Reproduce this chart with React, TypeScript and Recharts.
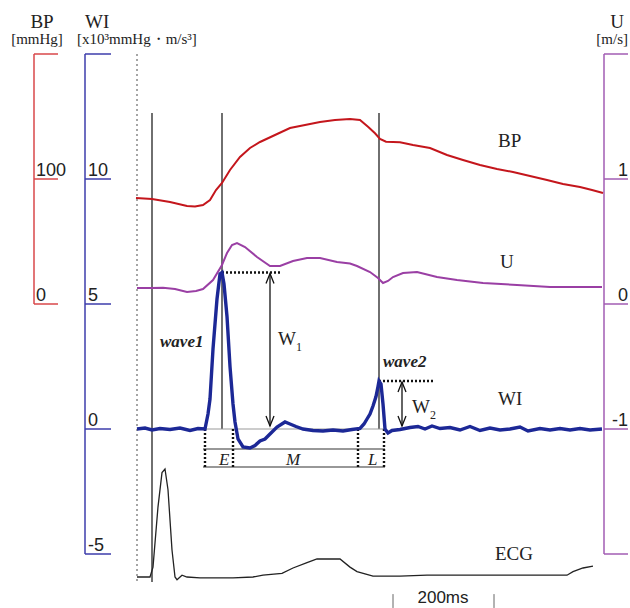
import { ComposedChart, Line, XAxis, YAxis, ReferenceLine } from "recharts";

const W = 630;
const H = 608;

// time in ms, 0 = start of the recording (dotted line)
const X_DOMAIN: [number, number] = [-272, 988];
const BP_DOMAIN: [number, number] = [-243.2, 243.2];
const WI_DOMAIN: [number, number] = [-7.16, 17.16];
const U_DOMAIN: [number, number] = [-2.432, 2.432];
const ECG_DOMAIN: [number, number] = [-0.3444, 6.4111];

// [t ms, mmHg]
const bpPoints: [number, number][] = [
  [0, 84.8], [32, 84], [68, 81.6], [102, 78.4], [118, 78], [134, 79.2], [148, 83.2], [160, 91.2],
  [172, 96.8], [188, 107.2], [208, 117.6], [228, 124.8], [248, 129.6], [278, 135.2], [308, 140.8],
  [338, 143.2], [368, 145.6], [398, 147.2], [428, 148], [448, 147.2], [464, 141.8], [478, 136.6],
  [488, 132], [500, 129.8], [528, 129.4], [554, 127.2], [588, 124.8], [622, 119.2], [654, 115.2],
  [688, 111.2], [722, 108], [754, 105.6], [788, 102.4], [822, 99.2], [854, 96], [888, 93.6],
  [912, 91.2], [934, 88.8],
];

// [t ms, m/s]
const uPoints: [number, number][] = [
  [2, 0.128], [32, 0.128], [54, 0.13], [78, 0.12], [102, 0.096], [120, 0.104], [134, 0.12],
  [154, 0.192], [172, 0.312], [182, 0.408], [192, 0.472], [202, 0.488], [218, 0.456], [242, 0.376],
  [268, 0.304], [288, 0.304], [314, 0.344], [342, 0.368], [368, 0.368], [402, 0.336], [428, 0.324],
  [442, 0.304], [468, 0.256], [484, 0.208], [494, 0.168], [504, 0.184], [514, 0.216], [534, 0.248],
  [562, 0.256], [602, 0.216], [642, 0.192], [694, 0.168], [762, 0.152], [828, 0.136], [894, 0.136],
  [932, 0.136],
];

// [t ms, x10^3 mmHg·m/s^3]
const wiPoints: [number, number][] = [
  [2, 0], [18, 0.04], [32, -0.04], [48, 0.02], [68, -0.02], [88, 0.04], [108, -0.06], [124, 0.02],
  [138, 0], [144, 0.6], [148, 1.2], [154, 3.2], [162, 5.2], [168, 6.2], [172, 6.26], [176, 5.8],
  [182, 4.5], [188, 2.5], [194, 1.0], [198, 0.28], [204, -0.4], [214, -0.72], [228, -0.76],
  [238, -0.66], [248, -0.48], [258, -0.4], [268, -0.2], [282, 0.08], [298, 0.28], [308, 0.2],
  [320, 0.1], [334, 0], [354, -0.06], [374, -0.08], [394, -0.04], [414, -0.08], [432, -0.02],
  [448, 0.02], [456, 0.2], [462, 0.4], [468, 0.6], [474, 0.92], [480, 1.3], [484, 1.7], [486, 1.92],
  [490, 1.8], [494, 1.0], [498, 0], [504, -0.16], [512, -0.06], [528, -0.02], [548, 0.06],
  [564, 0.1], [578, 0], [592, 0.12], [608, 0.02], [628, 0.06], [648, -0.04], [668, 0.1],
  [688, -0.06], [708, 0.04], [728, -0.04], [748, 0], [768, 0.08], [784, -0.08], [808, 0.02],
  [828, -0.04], [848, 0.02], [868, -0.04], [888, 0.02], [908, -0.04], [932, 0],
];

// [t ms, mV]
const ecgPoints: [number, number][] = [
  [2, 0], [28, 0], [34, 0.11], [44, 0.78], [52, 1.16], [58, 1.2], [64, 0.97], [72, 0.3], [78, 0],
  [82, -0.03], [92, 0.02], [102, 0], [128, -0.01], [194, -0.01], [234, 0], [254, 0.02], [292, 0.04],
  [314, 0.1], [342, 0.16], [362, 0.2], [408, 0.2], [428, 0.11], [442, 0.06], [474, 0.01], [528, 0.01],
  [582, 0.02], [794, 0.02], [862, 0.02], [874, 0.06], [894, 0.1], [914, 0.12],
];

const BP_TICKS = [0, 100, 200];
const BP_LABELS = ["0", "100"];
const WI_TICKS = [-5, 0, 5, 10, 15];
const WI_LABELS = ["-5", "0", "5", "10"];
const U_TICKS = [-2, -1, 0, 1, 2];
const U_LABELS = ["-1", "0", "1"];

const toRows = (pts: [number, number][]) => pts.map(([t, v]) => ({ t, v }));

const SERIF = "'Liberation Serif', 'Times New Roman', serif";
const SANS = "'Liberation Sans', Arial, sans-serif";

const xPx = (t: number) => ((t - X_DOMAIN[0]) / (X_DOMAIN[1] - X_DOMAIN[0])) * W;
const yPx = (v: number, d: [number, number]) => ((d[1] - v) / (d[1] - d[0])) * H;

// event times (ms)
const T_ONSET = 32;
const T_WAVE1 = 172;
const T_WAVE2 = 486;
const T_E = [138, 194];
const T_L = [444, 496];
const T_BR = [134, 498];

const wave1Peak = Math.max(...wiPoints.filter(([t]) => t < 300).map(([, v]) => v));
const wave2Peak = Math.max(...wiPoints.filter(([t]) => t > 400 && t < 600).map(([, v]) => v));

function ArrowV({ t, top, bottom }: { t: number; top: number; bottom: number }) {
  const x = xPx(t);
  const y1 = yPx(top, WI_DOMAIN);
  const y2 = yPx(bottom, WI_DOMAIN);
  return (
    <g stroke="#111" fill="none" strokeWidth={1.3}>
      <line x1={x} y1={y1 + 1} x2={x} y2={y2 - 1} />
      <polyline points={`${x - 4},${y1 + 11} ${x},${y1 + 1} ${x + 4},${y1 + 11}`} />
      <polyline points={`${x - 4},${y2 - 11} ${x},${y2 - 1} ${x + 4},${y2 - 11}`} />
    </g>
  );
}

export default function App() {
  const dot = { stroke: "#111", strokeWidth: 2.4, strokeDasharray: "2 2" };
  const series = { type: "linear" as const, dot: false, activeDot: false, isAnimationActive: false };
  return (
    <div style={{ position: "absolute", left: 0, top: 0, width: W, height: H, background: "#fff" }}>
      <ComposedChart width={W} height={H} margin={{ top: 0, right: 0, bottom: 0, left: 0 }}>
        <XAxis dataKey="t" type="number" domain={X_DOMAIN} hide allowDataOverflow />
        <YAxis yAxisId="bp" type="number" domain={BP_DOMAIN} hide allowDataOverflow />
        <YAxis yAxisId="wi" type="number" domain={WI_DOMAIN} hide allowDataOverflow />
        <YAxis yAxisId="u" type="number" domain={U_DOMAIN} hide allowDataOverflow />
        <YAxis yAxisId="ecg" type="number" domain={ECG_DOMAIN} hide allowDataOverflow />

        {/* scale axes */}
        <ReferenceLine yAxisId="bp" ifOverflow="visible" stroke="#d8474a" strokeWidth={1.5}
          segment={[{ x: -204, y: 0 }, { x: -204, y: 200 }]} />
        {BP_TICKS.map((v) => (
          <ReferenceLine key={"bp" + v} yAxisId="bp" ifOverflow="visible" stroke="#d8474a" strokeWidth={1.5}
            segment={[{ x: -204, y: v }, { x: -156, y: v }]} />
        ))}
        <ReferenceLine yAxisId="wi" ifOverflow="visible" stroke="#3d3dab" strokeWidth={1.5}
          segment={[{ x: -102, y: -5 }, { x: -102, y: 15 }]} />
        {WI_TICKS.map((v) => (
          <ReferenceLine key={"wi" + v} yAxisId="wi" ifOverflow="visible" stroke="#3d3dab" strokeWidth={1.5}
            segment={[{ x: -102, y: v }, { x: -50, y: v }]} />
        ))}
        <ReferenceLine yAxisId="u" ifOverflow="visible" stroke="#a25db3" strokeWidth={1.5}
          segment={[{ x: 936, y: -2 }, { x: 936, y: 2 }]} />
        {U_TICKS.map((v) => (
          <ReferenceLine key={"u" + v} yAxisId="u" ifOverflow="visible" stroke="#a25db3" strokeWidth={1.5}
            segment={[{ x: 936, y: v }, { x: 984, y: v }]} />
        ))}

        {/* timing lines */}
        <ReferenceLine yAxisId="wi" ifOverflow="visible" stroke="#888" strokeWidth={1.5} strokeDasharray="2 3"
          segment={[{ x: 2, y: 15 }, { x: 2, y: -6.16 }]} />
        <ReferenceLine yAxisId="wi" ifOverflow="visible" stroke="#333" strokeWidth={1.4}
          segment={[{ x: T_ONSET, y: 12.64 }, { x: T_ONSET, y: -6.12 }]} />
        <ReferenceLine yAxisId="wi" ifOverflow="visible" stroke="#333" strokeWidth={1.4}
          segment={[{ x: T_WAVE1, y: 12.64 }, { x: T_WAVE1, y: 0 }]} />
        <ReferenceLine yAxisId="wi" ifOverflow="visible" stroke="#333" strokeWidth={1.4}
          segment={[{ x: T_WAVE2, y: 12.64 }, { x: T_WAVE2, y: 0 }]} />
        <ReferenceLine yAxisId="wi" ifOverflow="visible" stroke="#999" strokeWidth={1}
          segment={[{ x: T_BR[0], y: 0 }, { x: T_BR[1], y: 0 }]} />

        {/* E / M / L bracket */}
        <ReferenceLine yAxisId="wi" ifOverflow="visible" stroke="#333" strokeWidth={1.2}
          segment={[{ x: T_BR[0], y: -0.8 }, { x: T_BR[1], y: -0.8 }]} />
        <ReferenceLine yAxisId="wi" ifOverflow="visible" stroke="#333" strokeWidth={1.2}
          segment={[{ x: T_BR[0], y: -1.52 }, { x: T_BR[1], y: -1.52 }]} />
        {[...T_E, ...T_L].map((t) => (
          <ReferenceLine key={"br" + t} yAxisId="wi" ifOverflow="visible" {...dot}
            segment={[{ x: t, y: 0 }, { x: t, y: -1.52 }]} />
        ))}

        {/* peak markers */}
        <ReferenceLine yAxisId="wi" ifOverflow="visible" {...dot}
          segment={[{ x: T_WAVE1, y: wave1Peak }, { x: 288, y: wave1Peak }]} />
        <ReferenceLine yAxisId="wi" ifOverflow="visible" {...dot}
          segment={[{ x: T_WAVE2, y: wave2Peak }, { x: 596, y: wave2Peak }]} />

        <Line {...series} data={toRows(ecgPoints)} dataKey="v" yAxisId="ecg" stroke="#222" strokeWidth={1.3} />
        <Line {...series} data={toRows(bpPoints)} dataKey="v" yAxisId="bp" stroke="#c4161c" strokeWidth={2} />
        <Line {...series} data={toRows(uPoints)} dataKey="v" yAxisId="u" stroke="#9a3fa4" strokeWidth={2} />
        <Line {...series} data={toRows(wiPoints)} dataKey="v" yAxisId="wi" stroke="#1c2896" strokeWidth={3.4} />

        {/* 200 ms scale bar */}
        <ReferenceLine yAxisId="ecg" ifOverflow="visible" stroke="#666" strokeWidth={1}
          segment={[{ x: 514, y: -0.19 }, { x: 514, y: -0.344 }]} />
        <ReferenceLine yAxisId="ecg" ifOverflow="visible" stroke="#666" strokeWidth={1}
          segment={[{ x: 716, y: -0.19 }, { x: 716, y: -0.344 }]} />

        <ArrowV t={268} top={wave1Peak} bottom={0.08} />
        <ArrowV t={532} top={wave2Peak} bottom={0.08} />

        <g fill="#222" fontFamily={SERIF}>
          <text x={42} y={28} fontSize={19} textAnchor="middle">BP</text>
          <text x={37} y={44} fontSize={15} textAnchor="middle">[mmHg]</text>
          <text x={85} y={28} fontSize={19}>WI</text>
          <text x={77} y={44} fontSize={15}>[x10³mmHg・m/s³]</text>
          <text x={617} y={28} fontSize={19} textAnchor="middle">U</text>
          <text x={628} y={44} fontSize={15} textAnchor="end">[m/s]</text>

          <text x={498} y={147} fontSize={19}>BP</text>
          <text x={500} y={268} fontSize={19}>U</text>
          <text x={498} y={405} fontSize={19}>WI</text>
          <text x={495} y={560} fontSize={19}>ECG</text>

          <text x={160} y={347} fontSize={17} fontWeight="bold" fontStyle="italic">wave1</text>
          <text x={383} y={367} fontSize={17} fontWeight="bold" fontStyle="italic">wave2</text>
          <text x={278} y={345} fontSize={19}>W<tspan fontSize={12} dy={6}>1</tspan></text>
          <text x={412} y={413} fontSize={19}>W<tspan fontSize={12} dy={6}>2</tspan></text>
          <text x={219} y={465} fontSize={17} fontStyle="italic">E</text>
          <text x={286} y={465} fontSize={17} fontStyle="italic">M</text>
          <text x={368} y={465} fontSize={17} fontStyle="italic">L</text>
        </g>

        <g fill="#222" fontFamily={SANS} fontSize={18}>
          {BP_LABELS.map((s) => (
            <text key={"bpl" + s} x={36} y={yPx(Number(s), BP_DOMAIN) - 3}>{s}</text>
          ))}
          {WI_LABELS.map((s) => (
            <text key={"wil" + s} x={88} y={yPx(Number(s), WI_DOMAIN) - 3}>{s}</text>
          ))}
          {U_LABELS.map((s) => (
            <text key={"ul" + s} x={628} y={yPx(Number(s), U_DOMAIN) - 3} textAnchor="end">{s}</text>
          ))}
          <text x={443} y={603} textAnchor="middle" fontSize={17}>200ms</text>
        </g>
      </ComposedChart>
    </div>
  );
}
